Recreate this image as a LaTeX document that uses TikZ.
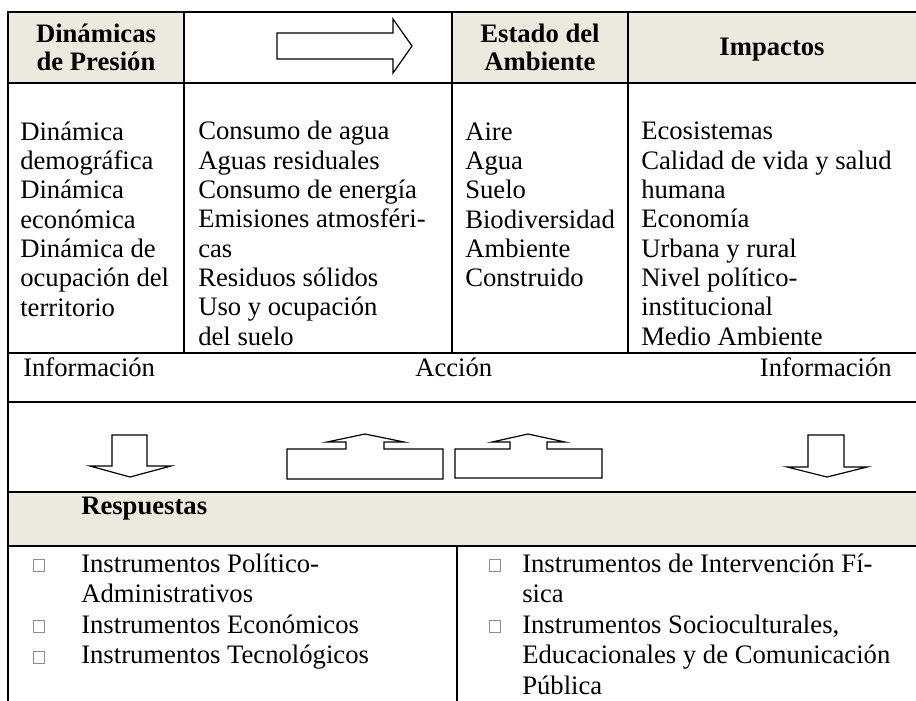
\documentclass[tikz,border=0pt]{standalone}
\usepackage{fontspec}
\setmainfont{Liberation Serif}
\definecolor{hdrfill}{RGB}{236,233,223}
\definecolor{boxgray}{RGB}{140,140,140}
\begin{document}
\begin{tikzpicture}[x=0.75pt,y=-0.75pt,
  rule/.style={line width=1.35pt, line cap=rect},
  arrowshape/.style={draw, line width=0.9pt, fill=white, line join=miter},
  body/.style={font=\fontsize{20pt}{22pt}\selectfont, inner sep=0pt, align=left},
  head/.style={font=\fontsize{20pt}{21.2pt}\selectfont\bfseries, inner sep=0pt, align=center},
  listtext/.style={font=\fontsize{20pt}{22.875pt}\selectfont, inner sep=0pt, align=left},
  bullet/.style={draw=boxgray, line width=0.5pt, minimum width=8.25pt, minimum height=9pt, inner sep=0pt, anchor=south west}
]
\useasboundingbox (0,0) rectangle (916,700);
\fill[white] (0,0) rectangle (916,700);
% shaded cells
\fill[hdrfill] (8,12) rectangle (184,83);
\fill[hdrfill] (452,12) rectangle (916,83);
\fill[hdrfill] (8,492) rectangle (916,546);
% rules
\draw[rule] (8,12) -- (920,12);
\draw[rule] (8,83) -- (920,83);
\draw[rule] (8,353) -- (920,353);
\draw[rule] (8,402) -- (920,402);
\draw[rule] (8,492) -- (920,492);
\draw[rule] (8,546) -- (920,546);
\draw[rule] (8,12) -- (8,704);
\draw[rule] (184,12) -- (184,353);
\draw[rule] (452,12) -- (452,353);
\draw[rule] (628,12) -- (628,353);
\draw[rule] (457,546) -- (457,704);
% header arrow
\draw[arrowshape] (277,33) -- (393,33) -- (393,19) -- (412,46) -- (393,73) -- (393,59) -- (277,59) -- cycle;
% down arrows
\draw[arrowshape] (112,435) -- (147,435) -- (147,466) -- (171,466) -- (130,477) -- (90,466) -- (112,466) -- cycle;
\draw[arrowshape] (808,435) -- (844,435) -- (844,467) -- (867,467) -- (827,477) -- (787,467) -- (808,467) -- cycle;
% up arrows with boxes
\draw[arrowshape] (287,479) -- (287,449) -- (346,449) -- (346,442) -- (327,442) -- (365,434) -- (404,442) -- (384,442) -- (384,449) -- (443,449) -- (443,479) -- cycle;
\draw[arrowshape] (455,478) -- (455,449) -- (510,449) -- (510,442) -- (492,442) -- (528,434) -- (565,442) -- (547,442) -- (547,449) -- (602,449) -- (602,478) -- cycle;
% headers (anchor base = baseline of last line)
\node[head, anchor=base] (hdp) at (96,70.3) {Dinámicas\\de Presión};
\node[head, anchor=base] (hea) at (540,70.3) {Estado del\\Ambiente};
\node[head, anchor=base] (him) at (772,55) {Impactos};
% body columns
\node[body, anchor=base west] (c1) at (20,316) {Dinámica\\demográfica\\Dinámica\\económica\\Dinámica de\\ocupación del\\territorio};
\node[body, anchor=base west] (c2) at (198,345.3) {Consumo de agua\\Aguas residuales\\Consumo de energía\\Emisiones atmosféri-\\cas\\Residuos sólidos\\Uso y ocupación\\del suelo};
\node[body, anchor=base west] (c3) at (465,286.7) {Aire\\Agua\\Suelo\\Biodiversidad\\Ambiente\\Construido};
\node[body, anchor=base west] (c4) at (641,345.3) {Ecosistemas\\Calidad de vida y salud\\humana\\Economía\\Urbana y rural\\Nivel político-\\institucional\\Medio Ambiente};
% information row
\node[body, anchor=base west] (inf1) at (23,376) {Información};
\node[body, anchor=base west] (acc) at (415,376) {Acción};
\node[body, anchor=base east] (inf2) at (892,376) {Información};
% responses
\node[head, anchor=base west] (resp) at (81,514) {Respuestas};
\node[listtext, anchor=base west] (l1) at (81,663.5) {Instrumentos Político-\\Administrativos\\Instrumentos Económicos\\Instrumentos Tecnológicos};
\node[listtext, anchor=base west] (r1) at (522,694) {Instrumentos de Intervención Fí-\\sica\\Instrumentos Socioculturales,\\Educacionales y de Comunicación\\Pública};
\node[bullet] (bl1) at (33,572) {};
\node[bullet] (bl2) at (33,633) {};
\node[bullet] (bl3) at (33,663.5) {};
\node[bullet] (br1) at (489,572) {};
\node[bullet] (br2) at (489,633) {};
\end{tikzpicture}
\end{document}
